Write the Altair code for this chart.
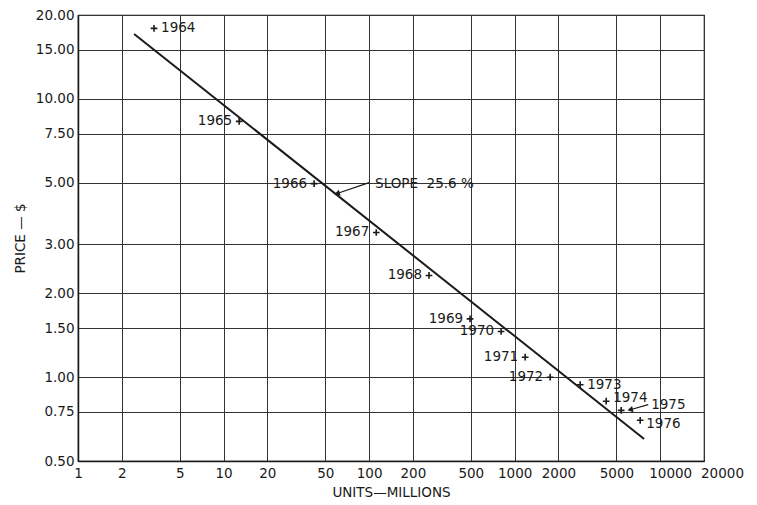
import altair as alt
import pandas as pd

# ---- data ----
years = ["1964", "1965", "1966", "1967", "1968", "1969", "1970",
         "1971", "1972", "1973", "1974", "1975", "1976"]
units = [3.33, 12.8, 41.9, 112, 258, 494, 807, 1181, 1754, 2820, 4256, 5395, 7290]
price = [17.9, 8.3, 4.96, 3.31, 2.32, 1.62, 1.46, 1.18, 1.00, 0.94, 0.82, 0.76, 0.70]

left_labelled = ["1965", "1966", "1967", "1968", "1969", "1970", "1971", "1972"]
right_labelled = ["1964", "1973"]

trend_units = [2.43, 7760]
trend_price = [17.1, 0.60]

x_ticks = [1, 2, 5, 10, 20, 50, 100, 200, 500, 1000, 2000, 5000, 10000, 20000]
y_ticks = [0.5, 0.75, 1.0, 1.5, 2.0, 3.0, 5.0, 7.5, 10.0, 15.0, 20.0]

slope_text = "SLOPE\u00a0\u00a025.6\u00a0%"
slope_text_pos = (110, 4.96)
slope_arrow = [(100, 5.0), (60.3, 4.57)]
arrow_1975 = [(8275, 0.797), (6220, 0.764)]

FONT = "DejaVu Sans"
INK = "#1a1a1a"
FS = 13.5

pts = pd.DataFrame({"year": years, "units": units, "price": price})
trend = pd.DataFrame({"units": trend_units, "price": trend_price})

xs = alt.Scale(type="log", domain=[1, 20000], nice=False)
ys = alt.Scale(type="log", domain=[0.5, 20], nice=False)

x_enc = alt.X("units:Q", scale=xs, title="UNITS—MILLIONS",
              axis=alt.Axis(values=x_ticks, format="d", grid=True,
                            labelOverlap=False, labelBound=False, labelFlush=False,
                            labelOffset={"condition": [
                                {"test": "datum.value == 10000", "value": 10},
                                {"test": "datum.value == 20000", "value": 18}],
                                "value": 0}))
y_enc = alt.Y("price:Q", scale=ys, title="PRICE — $",
              axis=alt.Axis(values=y_ticks, format=".2f", grid=True,
                            labelOverlap=False, labelBound=False, labelFlush=False))

line = alt.Chart(trend).mark_line(color=INK, strokeWidth=2).encode(x=x_enc, y=y_enc)

plus = alt.Chart(pts).mark_point(shape="M-1,0L1,0M0,-1L0,1", filled=False,
                                 color=INK, strokeWidth=1.6, size=45, opacity=1).encode(
    x=x_enc, y=y_enc)

def labels(data, **kw):
    return alt.Chart(data).mark_text(font=FONT, fontSize=FS, color=INK,
                                     baseline="middle", **kw).encode(
        x=x_enc, y=y_enc, text="year:N")

lab_left = labels(pts[pts.year.isin(left_labelled)], align="right", dx=-7)
lab_right = labels(pts[pts.year.isin(right_labelled)], align="left", dx=7)
lab_1974 = labels(pts[pts.year == "1974"], align="left", dx=7, dy=-3)
lab_1975 = labels(pts[pts.year == "1975"], align="left", dx=30, dy=-5)
lab_1976 = labels(pts[pts.year == "1976"], align="left", dx=6, dy=4)

slope_df = pd.DataFrame({"units": [slope_text_pos[0]], "price": [slope_text_pos[1]],
                         "t": [slope_text]})
slope_lab = alt.Chart(slope_df).mark_text(font=FONT, fontSize=FS, color=INK,
                                          align="left", baseline="middle").encode(
    x=x_enc, y=y_enc, text="t:N")

def arrow(seg, angle):
    (x1, y1), (x2, y2) = seg
    d = pd.DataFrame({"units": [x1], "price": [y1], "u2": [x2], "p2": [y2]})
    r = alt.Chart(d).mark_rule(color=INK, strokeWidth=1.2).encode(
        x=x_enc, y=y_enc, x2="u2:Q", y2="p2:Q")
    h = alt.Chart(pd.DataFrame({"units": [x2], "price": [y2]})).mark_point(
        shape="triangle-left", filled=True, color=INK, size=40, angle=angle,
        opacity=1).encode(x=x_enc, y=y_enc)
    return r + h

chart = alt.layer(
    line, plus, lab_left, lab_right, lab_1974, lab_1975, lab_1976, slope_lab,
    arrow(slope_arrow, 343), arrow(arrow_1975, 347)
).properties(
    width=626, height=446,
    autosize=alt.AutoSizeParams(type="none"),
    padding={"left": 70, "top": 7, "right": 45, "bottom": 44},
    background="white",
).configure_axis(
    labelFont=FONT, labelFontSize=FS, labelColor=INK,
    titleFont=FONT, titleFontSize=FS, titleFontWeight="normal", titleColor=INK,
    gridColor="#333333", gridWidth=1, gridOpacity=1,
    domainColor=INK, domainWidth=1.5, ticks=False,
).configure_axisX(
    labelPadding=5, titlePadding=6,
).configure_axisY(
    labelPadding=4, titlePadding=8,
).configure_view(stroke=INK, strokeWidth=1.2)

chart.save("out.html", embed_options={"renderer": "svg", "actions": False})
